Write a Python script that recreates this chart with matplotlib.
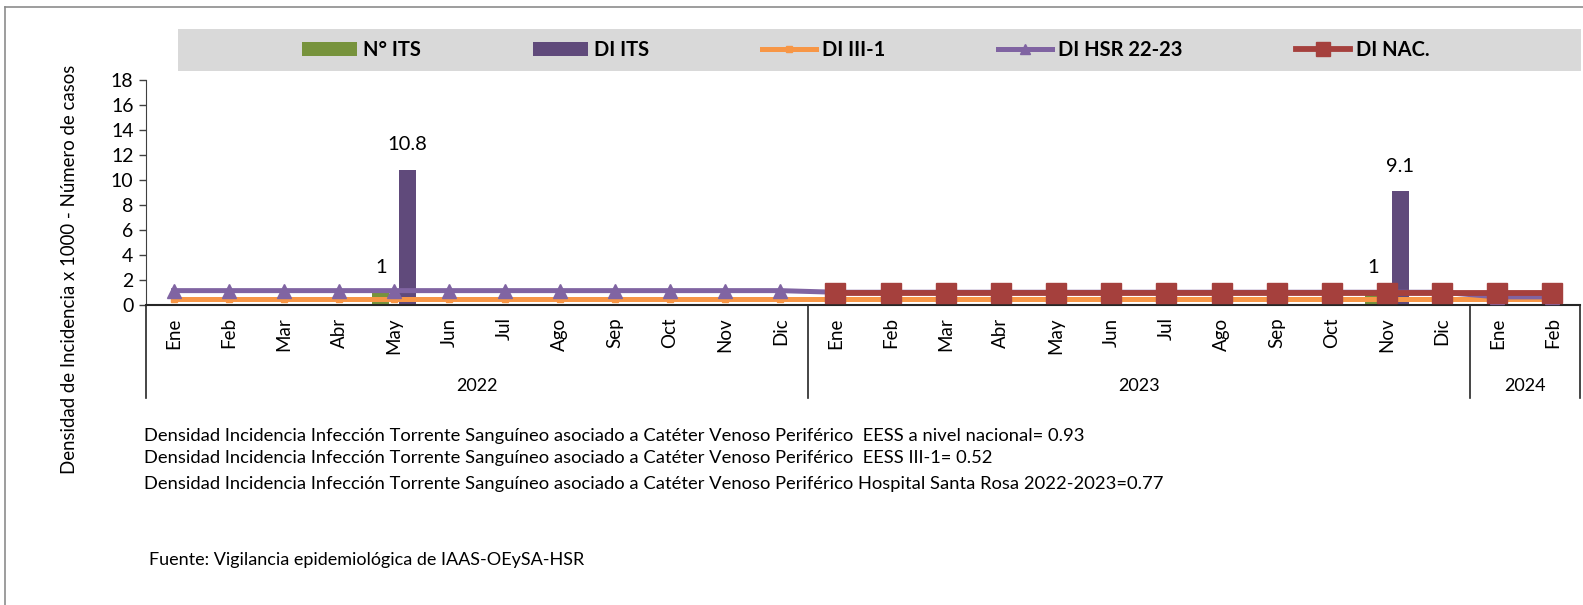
#!/usr/bin/env python3
"""Densidad de incidencia ITS asociado a CVP - HSR 2022-2024."""

import matplotlib
matplotlib.use("Agg")
import matplotlib.pyplot as plt
from matplotlib.lines import Line2D
from matplotlib.patches import Rectangle
import numpy as np

# Data
months = ["Ene", "Feb", "Mar", "Abr", "May", "Jun", "Jul", "Ago", "Sep", "Oct", "Nov", "Dic",
          "Ene", "Feb", "Mar", "Abr", "May", "Jun", "Jul", "Ago", "Sep", "Oct", "Nov", "Dic",
          "Ene", "Feb"]
years = ["2022", "2023", "2024"]
year_sizes = [12, 12, 2]

n_its = [0, 0, 0, 0, 1, 0, 0, 0, 0, 0, 0, 0,
         0, 0, 0, 0, 0, 0, 0, 0, 0, 0, 1, 0,
         0, 0]
di_its = [0, 0, 0, 0, 10.8, 0, 0, 0, 0, 0, 0, 0,
          0, 0, 0, 0, 0, 0, 0, 0, 0, 0, 9.1, 0,
          0, 0]
di_iii1 = [0.52] * 26
di_hsr = [1.15] * 12 + [1.02] * 12 + [0.65, 0.65]
di_nac = [np.nan] * 12 + [0.93] * 14

notes = [
    "Densidad Incidencia Infección Torrente Sanguíneo asociado a Catéter Venoso Periférico  EESS a nivel nacional= 0.93",
    "Densidad Incidencia Infección Torrente Sanguíneo asociado a Catéter Venoso Periférico  EESS III-1= 0.52",
    "Densidad Incidencia Infección Torrente Sanguíneo asociado a Catéter Venoso Periférico Hospital Santa Rosa 2022-2023=0.77",
]
source = "Fuente: Vigilancia epidemiológica de IAAS-OEySA-HSR"

W, H = 1583, 605


def main():
    plt.rcParams['font.family'] = ['Lato', 'DejaVu Sans']
    fig = plt.figure(figsize=(W / 100, H / 100), dpi=100)

    # outer border (left and top only are visible)
    fig.add_artist(Line2D([5 / W, 5 / W], [0, 1 - 7 / H], transform=fig.transFigure, color='#8c8c8c', lw=1.2))
    fig.add_artist(Line2D([5 / W, 1], [1 - 7 / H, 1 - 7 / H], transform=fig.transFigure, color='#8c8c8c', lw=1.2))

    # legend band
    fig.add_artist(Rectangle((178 / W, 1 - 71 / H), (1581 - 178) / W, 42 / H,
                             transform=fig.transFigure, facecolor='#D9D9D9', edgecolor='none'))

    ax = fig.add_axes([146 / W, (H - 305) / H, (1580 - 146) / W, 225 / H])
    x = np.arange(len(months))
    bw = 0.31
    off = 0.245

    b1 = ax.bar(x - off, n_its, bw, color='#77933C', label='N° ITS', zorder=2)
    b2 = ax.bar(x + off, di_its, bw, color='#604A7B', label='DI ITS', zorder=2)

    l1, = ax.plot(x, di_iii1, color='#F79646', lw=3.6, marker='s', ms=5, label='DI III-1', zorder=3, clip_on=False)
    l2, = ax.plot(x, di_hsr, color='#8064A2', lw=3.6, marker='^', ms=10, label='DI HSR 22-23', zorder=4, clip_on=False)
    l3, = ax.plot(x, di_nac, color='#A5403D', lw=4.2, marker='s', ms=14, label='DI NAC.', zorder=5, clip_on=False)

    # data labels
    for bars, vals in [(b1, n_its), (b2, di_its)]:
        for bar, v in zip(bars, vals):
            if v:
                ax.annotate(f'{v:g}', (bar.get_x() + bar.get_width() / 2, v),
                            xytext=(0, 18), textcoords='offset points',
                            ha='center', va='center', fontsize=14.5)

    ax.set_xlim(-0.5, len(months) - 0.5)
    ax.set_ylim(0, 18)
    ax.set_yticks(range(0, 19, 2))
    ax.tick_params(axis='y', labelsize=14, length=5, width=1, color='#404040', pad=4)
    ax.set_xticks(x)
    ax.set_xticklabels(months, rotation=90, fontsize=13.5)
    ax.tick_params(axis='x', length=0, pad=9)
    for s in ['top', 'right']:
        ax.spines[s].set_visible(False)
    ax.spines['left'].set_color('#404040')
    ax.spines['bottom'].set_color('#262626')
    ax.spines['bottom'].set_linewidth(1.5)

    # year grouping
    start = -0.5
    bounds = [start]
    for yr, n in zip(years, year_sizes):
        ax.text(start + n / 2, -0.36, yr, transform=ax.get_xaxis_transform(),
                ha='center', va='center', fontsize=13)
        start += n
        bounds.append(start)
    for b in bounds:
        ax.plot([b, b], [0, -0.413], transform=ax.get_xaxis_transform(),
                color='#262626', lw=1.2, clip_on=False)

    fig.text(70 / W, 1 - 269 / H, 'Densidad de Incidencia x 1000 - Número de casos',
             rotation=90, ha='center', va='center', fontsize=13.4)

    fig.legend(handles=[b1, b2, l1, l2, l3], loc='center', bbox_to_anchor=(866 / W, 1 - 50 / H),
               ncol=5, frameon=False, prop={'weight': 'bold', 'size': 14.5},
               handlelength=2.7, handletextpad=0.3, columnspacing=5.6, markerscale=0.75)

    for i, t in enumerate(notes):
        fig.text(144 / W, 1 - [436, 458, 484][i] / H, t, ha='left', va='center', fontsize=13.2)
    fig.text(149 / W, 1 - 560 / H, source, ha='left', va='center', fontsize=13)

    plt.savefig('out.png', dpi=100)


if __name__ == "__main__":
    main()
